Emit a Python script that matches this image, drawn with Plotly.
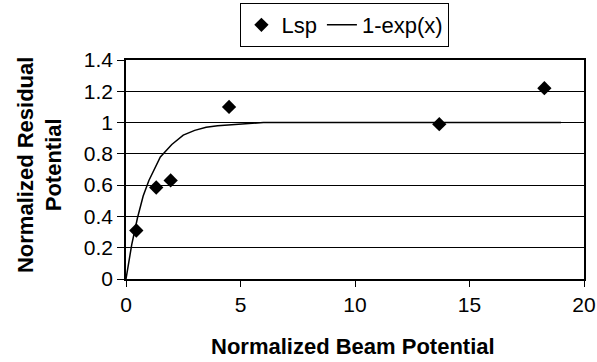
import plotly.graph_objects as go

# Data
lsp_x = [0.45, 1.32, 1.95, 4.5, 13.68, 18.27]
lsp_y = [0.31, 0.585, 0.63, 1.10, 0.99, 1.22]

curve_x = [0, 0.25, 0.5, 0.75, 1.0, 1.25, 1.5, 2.0, 2.5, 3.0, 3.5, 4.0, 5.0, 6.0, 8.0, 10.0, 19.0]
curve_y = [0, 0.22, 0.39, 0.53, 0.63, 0.71, 0.78, 0.86, 0.92, 0.95, 0.97, 0.98, 0.99, 1.0, 1.0, 1.0, 1.0]

x_ticks = [0, 5, 10, 15, 20]
y_ticks = [0, 0.2, 0.4, 0.6, 0.8, 1, 1.2, 1.4]
y_tick_text = ["0", "0.2", "0.4", "0.6", "0.8", "1", "1.2", "1.4"]

FONT = "Liberation Sans, Arial, Helvetica, sans-serif"

fig = go.Figure()
fig.add_trace(go.Scatter(
    x=lsp_x, y=lsp_y, mode="markers", name="Lsp",
    marker=dict(symbol="diamond", size=11, color="black"),
))
fig.add_trace(go.Scatter(
    x=curve_x, y=curve_y, mode="lines", name="1-exp(x)",
    line=dict(color="black", width=1.5),
))

fig.update_layout(
    width=597, height=362,
    margin=dict(l=126, r=13, t=60, b=83, autoexpand=False),
    paper_bgcolor="white", plot_bgcolor="white",
    font=dict(family=FONT, color="black", size=20),
    showlegend=True,
    legend=dict(
        orientation="h", x=0.478, xanchor="center", y=1.26, yanchor="top",
        bordercolor="black", borderwidth=1, bgcolor="white",
        font=dict(size=22, family=FONT, color="black"),
        itemwidth=30, tracegroupgap=0,
    ),
    xaxis=dict(
        range=[0, 20], tickvals=x_ticks, ticks="outside", ticklen=6,
        tickcolor="black", showgrid=False, zeroline=False, automargin=False,
        showline=True, linecolor="black", linewidth=1.5, mirror=True,
        tickfont=dict(size=21, family=FONT, color="black"),
    ),
    yaxis=dict(
        range=[0, 1.4], tickvals=y_ticks, ticktext=y_tick_text, automargin=False,
        ticks="outside", ticklen=7, tickcolor="black",
        showgrid=True, gridcolor="black", gridwidth=1, zeroline=False,
        showline=True, linecolor="black", linewidth=1.5, mirror=True,
        tickfont=dict(size=21, family=FONT, color="black"),
    ),
    annotations=[
        dict(text="<b>Normalized Beam Potential</b>", xref="paper", yref="paper",
             x=0.495, y=-0.31, xanchor="center", yanchor="middle", showarrow=False,
             font=dict(size=22, family=FONT, color="black")),
        dict(text="<b>Normalized Residual<br>Potential</b>", xref="paper", yref="paper",
             x=-0.188, y=0.52, xanchor="center", yanchor="middle", showarrow=False,
             textangle=-90, font=dict(size=22, family=FONT, color="black")),
    ],
)

fig.write_html("out.html")
